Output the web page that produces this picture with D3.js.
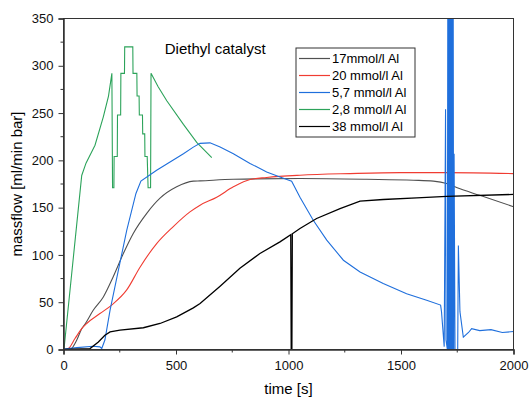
<!DOCTYPE html>
<html>
<head>
<meta charset="utf-8">
<script src="https://cdn.jsdelivr.net/npm/d3@7"></script>
<style>
  body { margin: 0; background: #fff; }
  svg { font-family: "Liberation Sans", Arial, sans-serif; }
</style>
</head>
<body>
<svg id="chart" width="529" height="401"></svg>
<script>
// values: [time s, massflow]
var gray17 = [[0,0],[30,0],[36,1],[59,10],[81,22],[96,27],[132,41.5],[177,55.6],[221,77],[266,101.5],[310,122.7],
  [370,144],[429,160],[503,172],[577,178],[607,178.3],[755,180],[1051,180.8],[1348,180],[1555,179],[1644,178],
  [1703,175.5],[1750,171],[1850,163],[2000,151]]
var red20 = [[0,0],[21,1],[51,11.6],[81,22],[103,27.5],[162,38],[214,47],[281,63],[340,87],[414,112],[488,130],
  [562,145.5],[607,152.6],[681,161],[755,172],[829,179.8],[903,181.9],[1051,184.3],[1273,186],[1496,187],[1703,187],
  [2000,186]]
var blue57 = [[0,0.5],[60,2],[132,3.5],[162,2.8],[170,1],[184,10],[207,41.6],[244,84],[281,126],[322,165],[344,178],
  [414,189.6],[533,207],[577,214],[607,218],[651,218.5],[696,214],[755,207],[829,196.7],[903,187.8],[962,182.5],
  [1014,178],[1051,161],[1110,136.7],[1170,115.6],[1244,94.4],[1318,82],[1421,69.8],[1525,59],[1614,52],[1676,47],
  [1680,40],[1692,3],[1698,254],[1700,10],[1706,0],[1708,380],[1710,0],[1712,380],[1714,0],[1716,380],[1718,0],
  [1720,380],[1722,0],[1724,380],[1726,0],[1728,380],[1730,0],[1732,380],[1734,0],[1736,207],[1740,0],[1752,0],
  [1755,110],[1762,40],[1777,13],[1800,18],[1814,22],[1850,20],[1900,21],[1950,18],[2000,19]]
var green28 = [[2,0],[81,184],[100,197],[140,216],[177,246],[200,268],[215,292],[218,171],[224,171],[225,204],[239,204],
  [240,248],[254,248],[255,292],[271,292],[272,320],[308,320],[309,292],[326,292],[327,268],[336,268],[337,248],[351,248],
  [352,228],[361,228],[362,204],[372,204],[376,171],[387,171],[389,292],[420,278],[459,263],[533,238],[592,219],[659,203]]
var black38 = [[0,0],[118,1],[155,8],[184,15],[207,18.6],[251,20.4],[355,23],[429,27.5],[503,34.5],[577,44],
  [607,48.6],[696,67],[784,86],[873,101.5],[962,113.8],[1010,121.5],[1012,0],[1015,0],[1017,122.3],[1051,128],
  [1125,138.5],[1229,149],[1318,156.8],[1421,158.6],[1570,160.3],[1703,162],[2000,164]]

var seriesNames = ['17mmol/l Al', '20 mmol/l Al', '5,7 mmol/l Al', '2,8 mmol/l Al', '38 mmol/l Al']
var seriesColors = ['#505050', '#f03c32', '#1f6fdc', '#2ca35a', '#000000']
var seriesData = [gray17, red20, blue57, green28, black38]
var xTicks = [0, 500, 1000, 1500, 2000]
var yTicks = [0, 50, 100, 150, 200, 250, 300, 350]

var svg = d3.select('#chart')
var margin = {left: 63.5, right: 15.5, top: 18.5, bottom: 51.5}
var w = 529 - margin.left - margin.right,
    h = 401 - margin.top - margin.bottom

var x = d3.scaleLinear().domain([0, 2000]).range([0, w])
var y = d3.scaleLinear().domain([0, 350]).range([h, 0])

var g = svg.append('g').attr('transform', `translate(${margin.left}, ${margin.top})`)

g.append('defs').append('clipPath').attr('id', 'plot-clip')
  .append('rect').attr('width', w).attr('height', h)

var smooth = d3.line().x(d => x(d[0])).y(d => y(d[1])).curve(d3.curveMonotoneX)
var sharp = d3.line().x(d => x(d[0])).y(d => y(d[1]))

var lines = g.append('g').attr('clip-path', 'url(#plot-clip)')
// draw order: green under others, black on top
;[3, 0, 1, 2, 4].forEach(function (i) {
  lines.append('path')
      .attr('d', (i < 2 ? smooth : sharp)(seriesData[i]))
      .attr('fill', 'none')
      .attr('stroke', seriesColors[i])
      .attr('stroke-width', i == 4 ? 1.3 : 1.1)
})

// frame
g.append('rect').attr('width', w).attr('height', h)
    .attr('fill', 'none').attr('stroke', '#333').attr('stroke-width', 1)

// axes
var xAxis = g.append('g').attr('transform', `translate(0, ${h})`)
    .call(d3.axisBottom(x).tickValues(xTicks).tickFormat(d3.format('d')).tickSize(5).tickPadding(6))
xAxis.append('g').selectAll('line').data([250, 750, 1250, 1750]).join('line')
    .attr('x1', d => x(d)).attr('x2', d => x(d)).attr('y2', 3).attr('stroke', '#333')

var yAxis = g.append('g')
    .call(d3.axisLeft(y).tickValues(yTicks).tickFormat(d3.format('d')).tickSize(5).tickPadding(5))
yAxis.append('g').selectAll('line').data([25, 75, 125, 175, 225, 275, 325]).join('line')
    .attr('y1', d => y(d)).attr('y2', d => y(d)).attr('x2', -3).attr('stroke', '#333')

;[xAxis, yAxis].forEach(function (a) {
  a.select('.domain').attr('stroke', '#333').attr('stroke-width', 1.5)
  a.selectAll('.tick line').attr('stroke', '#333')
  a.selectAll('.tick text').attr('font-size', 13).attr('fill', '#111')
      .attr('font-family', '"Liberation Sans", Arial, sans-serif')
})

svg.append('text')
    .attr('x', margin.left + w / 2).attr('y', 394)
    .attr('text-anchor', 'middle').attr('font-size', 15)
    .text('time [s]')

svg.append('text')
    .attr('transform', `translate(22, ${margin.top + h / 2}) rotate(-90)`)
    .attr('text-anchor', 'middle').attr('font-size', 15)
    .text('massflow [ml/min bar]')

g.append('text')
    .attr('x', x(450)).attr('y', 35)
    .attr('font-size', 15)
    .text('Diethyl catalyst')

// legend
var legend = svg.append('g').attr('transform', 'translate(296, 48)')
legend.append('rect').attr('width', 119).attr('height', 89)
    .attr('fill', '#fff').attr('stroke', '#333').attr('stroke-width', 1)

seriesNames.forEach(function (name, i) {
  var row = legend.append('g').attr('transform', `translate(0, ${10.5 + i * 17})`)
  row.append('line').attr('x1', 3).attr('x2', 34)
      .attr('stroke', seriesColors[i]).attr('stroke-width', 1.2)
  row.append('text').attr('x', 36).attr('y', 4.5)
      .attr('font-size', 13).text(name)
})
</script>
</body>
</html>
